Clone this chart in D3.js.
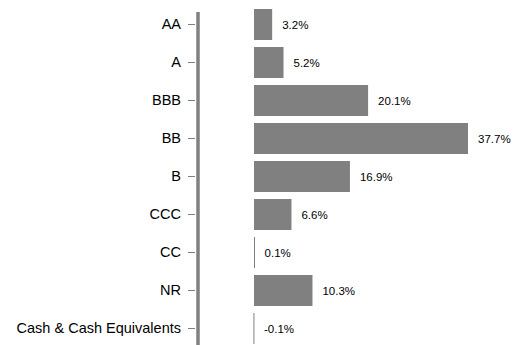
<!DOCTYPE html>
<html>
<head>
<meta charset="utf-8">
<script src="https://cdn.jsdelivr.net/npm/d3@7"></script>
<style>
  body { margin: 0; background: white; }
  svg { display: block; }
</style>
</head>
<body>
<div id="chart"></div>
<script>
var CATEGORIES = ["AA", "A", "BBB", "BB", "B", "CCC", "CC", "NR", "Cash & Cash Equivalents"];
var VALUES = [3.2, 5.2, 20.1, 37.7, 16.9, 6.6, 0.1, 10.3, -0.1];
var VALUE_LABELS = ["3.2%", "5.2%", "20.1%", "37.7%", "16.9%", "6.6%", "0.1%", "10.3%", "-0.1%"];

var width = 518;
var height = 345;
var AXIS_X = 198;
var BAR_COLOR = "#808080";

const renderChart = () => {
    let data = CATEGORIES.map((c, i) => {
        return {cat: c, value: VALUES[i], label: VALUE_LABELS[i]};
    });

    let svg = d3.select("#chart")
        .append("svg")
            .attr("width", width)
            .attr("height", height)
            .style("background-color", "white");

    let yScale = d3.scaleBand()
        .domain(CATEGORIES)
        .range([5.5, 347.5])
        .paddingInner(0.184)
        .paddingOuter(0.092);

    let xScale = d3.scaleLinear()
        .domain([0, 37.7])
        .range([254, 468]);

    // Left axis: thick gray line, short ticks, labels
    let yAxis = svg.append("g")
        .attr("transform", "translate(" + AXIS_X + ",0)")
        .call(d3.axisLeft(yScale)
            .tickSize(10)
            .tickPadding(7)
        );
    yAxis.select(".domain").remove();
    yAxis.selectAll(".tick line")
        .attr("x1", -3)
        .attr("x2", -10)
        .attr("stroke", "#808080")
        .attr("stroke-width", 1);
    yAxis.selectAll(".tick text")
        .attr("x", -17)
        .attr("font-family", "Liberation Sans, Arial, sans-serif")
        .attr("font-size", "14.5px")
        .attr("fill", "#000");

    svg.append("line")
        .attr("x1", AXIS_X)
        .attr("x2", AXIS_X)
        .attr("y1", 12)
        .attr("y2", height)
        .attr("stroke", "#808080")
        .attr("stroke-width", 3.5);

    // Bars
    svg.selectAll("rect.bar")
        .data(data)
        .enter()
        .append("rect")
            .attr("class", "bar")
            .attr("x", (d) => { return Math.min(xScale(d.value), xScale(0)); })
            .attr("y", (d) => { return yScale(d.cat); })
            .attr("width", (d) => { return Math.max(1, Math.abs(xScale(d.value) - xScale(0))); })
            .attr("height", yScale.bandwidth())
            .attr("fill", BAR_COLOR);

    // Value labels
    svg.selectAll("text.val")
        .data(data)
        .enter()
        .append("text")
            .attr("class", "val")
            .attr("x", (d) => { return Math.max(xScale(d.value), xScale(0)) + 10; })
            .attr("y", (d) => { return yScale(d.cat) + yScale.bandwidth() / 2; })
            .attr("dy", "0.35em")
            .attr("font-family", "Liberation Sans, Arial, sans-serif")
            .attr("font-size", "11.5px")
            .attr("fill", "#000")
            .text((d) => { return d.label; });
}

renderChart();
</script>
</body>
</html>
